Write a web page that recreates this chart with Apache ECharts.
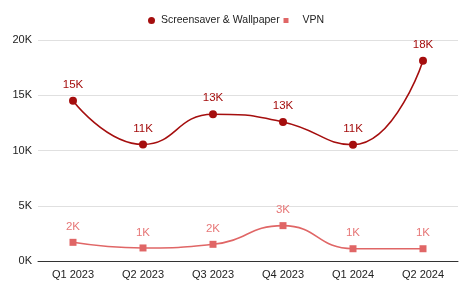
<!DOCTYPE html>
<html><head><meta charset="utf-8">
<script src="https://cdn.jsdelivr.net/npm/echarts@6/dist/echarts.min.js"></script>
<style>html,body{margin:0;padding:0;background:#fff}#c{width:474px;height:292px}</style>
</head><body><div id="c"></div>
<script>
const categories = ['Q1 2023','Q2 2023','Q3 2023','Q4 2023','Q1 2024','Q2 2024'];
const screensaver = [14500, 10550, 13280, 12580, 10520, 18130];
const vpn = [1690, 1180, 1510, 3200, 1110, 1110];
const yTicks = ['0K','5K','10K','15K','20K'];

const fmtK = v => Math.round(v/1000) + 'K';
const chart = echarts.init(document.getElementById('c'));
const font = 'Liberation Sans, Arial, sans-serif';
function mkSeries(name, data, color, labelColor, symbol, size){
  return {
    name, type:'line', data, smooth:0.5, symbol, symbolSize:size,
    lineStyle:{color, width:1.6}, itemStyle:{color},
    label:{show:true, position:'top', distance:6, color:labelColor, fontSize:11.5, fontFamily:font,
      formatter:p=>fmtK(p.value)},
    labelLine:{show:true, lineStyle:{color:'#e4e4e4', width:1}}
  };
}
const legendText = {color:'#222', fontSize:10.5, fontFamily:font};
chart.setOption({
  animation:false,
  textStyle:{fontFamily:font},
  legend:[
    {top:15, left:148, padding:0, itemWidth:7, itemHeight:7,
      textStyle:Object.assign({padding:[0,0,0,1]}, legendText),
      data:[{name:'Screensaver & Wallpaper', icon:'circle'}]},
    {top:15, left:283.5, padding:0, itemWidth:5, itemHeight:5,
      textStyle:Object.assign({padding:[0,0,0,9]}, legendText),
      data:[{name:'VPN', icon:'rect'}]}
  ],
  grid:{left:38, right:16, top:40, bottom:31},
  xAxis:{type:'category', data:categories, boundaryGap:true,
    axisLine:{lineStyle:{color:'#333'}}, axisTick:{show:false},
    axisLabel:{color:'#222', fontSize:11, fontFamily:font, margin:8}},
  yAxis:{type:'value', min:0, max:20000, interval:5000,
    axisLabel:{color:'#222', fontSize:11, fontFamily:font, margin:6,
      formatter:v=>yTicks[v/5000]},
    splitLine:{lineStyle:{color:'#e0e0e0'}}},
  series:[
    mkSeries('Screensaver & Wallpaper', screensaver, '#a50e0e', '#a50e0e', 'circle', 8),
    mkSeries('VPN', vpn, '#e06666', '#e77777', 'rect', 7)
  ]
});
</script></body></html>
